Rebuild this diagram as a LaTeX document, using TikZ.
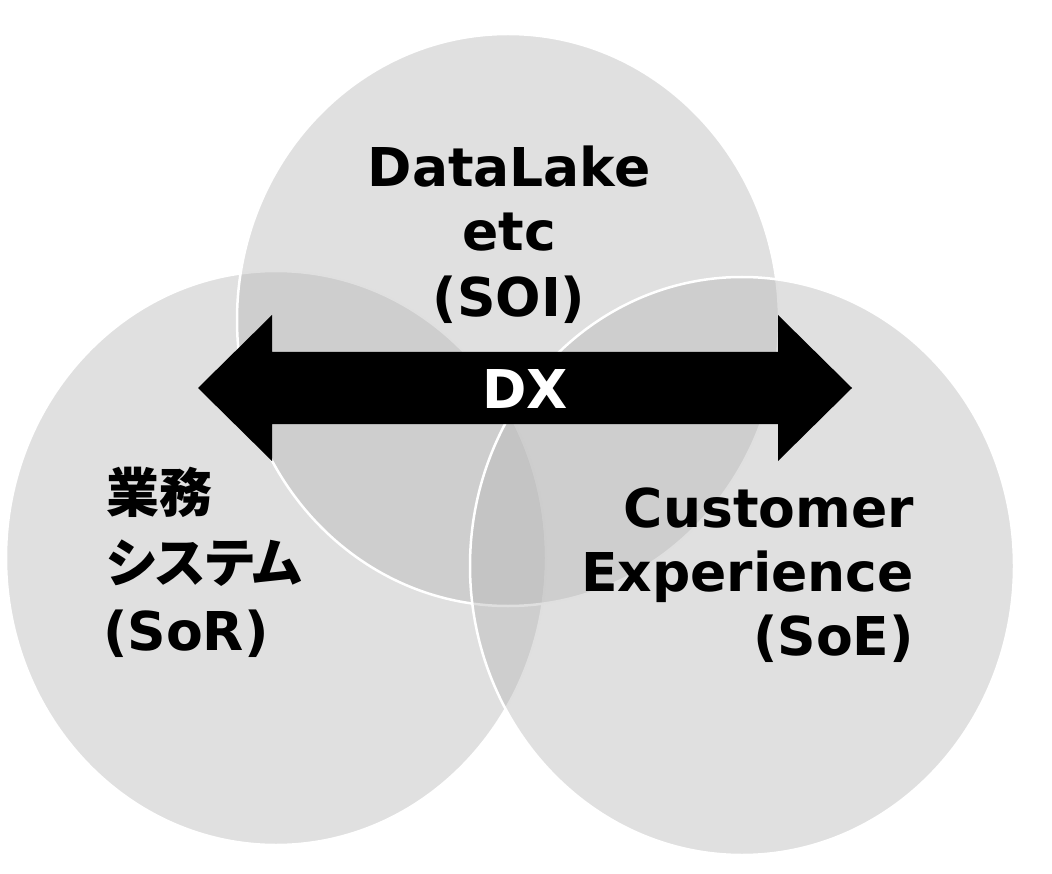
\documentclass[tikz,border=0pt]{standalone}
\usepackage{fontspec}
\setmainfont{DejaVu Sans}
\newfontfamily\jp{Noto Sans CJK JP}[RawFeature=+palt]
\definecolor{circlegray}{RGB}{181,181,181}
\begin{document}
\begin{tikzpicture}[x=1pt,y=-1pt,
  venn/.style={fill=circlegray,fill opacity=0.42,draw=white,draw opacity=1,line width=2.5pt},
  lbl/.style={inner sep=0pt,font=\fontsize{53.5}{60}\selectfont\bfseries,text=black},
  jlbl/.style={inner sep=0pt,font=\fontsize{53}{60}\selectfont\jp\bfseries,text=black}]
\useasboundingbox (0,0) rectangle (1052,874);
% circles (slightly stretched vertically as in the reference)
\path[venn] (276,558) ellipse [x radius=270,y radius=287];
\path[venn] (508,320) ellipse [x radius=271,y radius=286];
\path[venn] (742,566) ellipse [x radius=272,y radius=289];
% double arrow
\coordinate (lt) at (198,388);
\coordinate (rt) at (852,388);
\fill[black] (lt) -- (272,315) -- (272,352) -- (778,352) -- (778,315) -- (rt)
  -- (778,461) -- (778,424) -- (272,424) -- (272,461) -- cycle;
\node[lbl,text=white,anchor=base] (dx) at (525,409) {DX};
% top label
\node[lbl,anchor=base] (soi1) at (509,187) {DataLake};
\node[lbl,anchor=base] (soi2) at (509,251) {etc};
\node[lbl,anchor=base] (soi3) at (509,317) {(SOI)};
% left label
\node[jlbl,anchor=base west] (sor1) at (106,512) {業務};
\node[jlbl,anchor=base west] (sor2) at (106,582) {システム};
\node[lbl,anchor=base west] (sor3) at (103,650) {(SoR)};
% right label
\node[lbl,anchor=base east] (soe1) at (914,527) {Customer};
\node[lbl,anchor=base east] (soe2) at (914,591) {Experience};
\node[lbl,anchor=base east] (soe3) at (914,655) {(SoE)};
\end{tikzpicture}
\end{document}
